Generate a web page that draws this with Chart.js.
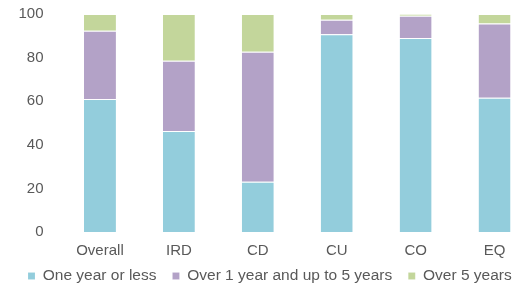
<!DOCTYPE html>
<html>
<head>
<meta charset="utf-8">
<script src="https://cdn.jsdelivr.net/npm/chart.js@4"></script>
<style>
    html, body { margin: 0; padding: 0; background: #fff; }
    #wrap { width: 529px; height: 283px; overflow: hidden; position: relative; }
</style>
</head>
<body>
<div id="wrap"><canvas id="chart" width="600" height="283"></canvas></div>
<script>
// values (% of notional)
const categories = ["Overall", "IRD", "CD", "CU", "CO", "EQ"];
const oneYearOrLess = [61, 46.3, 23.1, 90.7, 89, 61.6];
const oneToFiveYears = [31.3, 32.3, 59.6, 6.7, 10.2, 34];
const overFiveYears = [7.7, 21.4, 17.3, 2.6, 0.8, 4.4];
const yTicks = [0, 20, 40, 60, 80, 100];

const textColor = "#595959";
const fontFamily = "'Liberation Sans', Arial, sans-serif";

// keep the legend box tight so the legend sits near the bottom edge
const legendHeightFix = {
    id: "legendHeightFix",
    beforeLayout(chart) {
        let legend = chart.legend;
        if (legend && !legend._patched) {
            let fit = legend.fit;
            legend.fit = function () {
                fit.call(this);
                this.height = 30.75;
            };
            legend._patched = true;
        }
    }
};

let ctx = document.getElementById("chart").getContext("2d");

new Chart(ctx, {
    type: "bar",
    data: {
        labels: categories,
        datasets: [
            { label: "One year or less", data: oneYearOrLess, backgroundColor: "#93CDDC" },
            { label: "Over 1 year and up to 5 years", data: oneToFiveYears, backgroundColor: "#B3A2C7" },
            { label: "Over 5 years", data: overFiveYears, backgroundColor: "#C3D69B" }
        ]
    },
    plugins: [legendHeightFix],
    options: {
        responsive: false,
        animation: false,
        devicePixelRatio: 1,
        layout: { padding: { left: 12, right: 66, top: 14, bottom: 0 } },
        datasets: {
            bar: {
                categoryPercentage: 0.405,
                barPercentage: 1,
                borderWidth: { top: 1, left: 0, right: 0, bottom: 0 },
                borderColor: "rgba(255,255,255,0.5)",
                borderSkipped: false
            }
        },
        plugins: {
            tooltip: { enabled: false },
            legend: {
                position: "bottom",
                align: "start",
                labels: {
                    boxWidth: 7,
                    boxHeight: 7,
                    padding: 16,
                    color: textColor,
                    font: { family: fontFamily, size: 15.5 }
                }
            }
        },
        scales: {
            x: {
                stacked: true,
                grid: { display: false, drawTicks: false },
                border: { display: false },
                ticks: { color: textColor, padding: 10, font: { family: fontFamily, size: 15 } },
                afterFit: scale => {
                    scale.height = 20.25;
                    scale._computeLabelArea = () => undefined; // don't clip the labels
                }
            },
            y: {
                stacked: true,
                min: 0,
                max: 100,
                grid: { display: false, drawTicks: false },
                border: { display: false },
                ticks: { color: textColor, padding: 17, font: { family: fontFamily, size: 15 } },
                afterBuildTicks: scale => { scale.ticks = yTicks.map(v => ({ value: v })); },
                afterFit: scale => {
                    scale.width = 48.5;
                    scale.paddingTop = 9;
                    scale.paddingBottom = 9;
                }
            }
        }
    }
});
</script>
</body>
</html>
